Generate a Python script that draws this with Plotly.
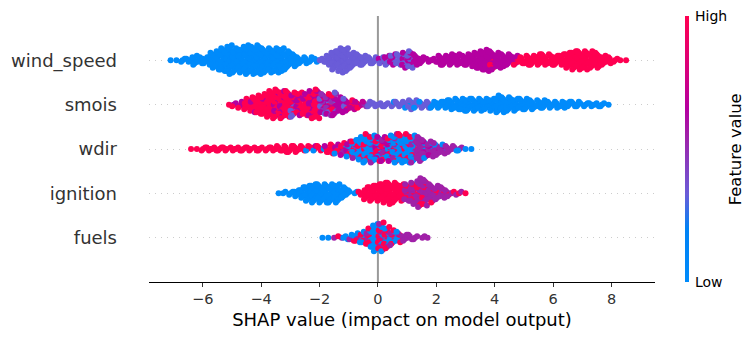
import plotly.graph_objects as go

# Values: SHAP bins (left edge, bin step) and the number of points in every bin.
features = ["fuels", "ignition", "wdir", "smois", "wind_speed"]
bin_step = 0.2

wind_start = -7.1
wind_counts = [1,1,3,3,7,5,5,11,13,16,20,17,17,20,19,20,17,17,17,16,13,9,5,5,4,3,3,7,13,17,16,11,8,7,5,5,5,7,8,8,11,12,8,5,3,3,7,7,8,8,7,8,11,13,15,13,11,9,8,7,5,7,7,8,8,8,7,8,11,13,13,13,12,11,7,5,3,1,1]
wind_breaks = [-1.95, -0.1, 0.95, 1.5, 3.5, 4.75, 99]
wind_values = [[0], [0.33], [0.33, 0.33, 0.65, 0.33], [0.65, 0.65, 0.33], [0.65], [0.65, 0.65, 0.65, 0.65, 0.65, 0.65, 0.65, 1], [1]]

smois_start = -5.1
smois_counts = [1,3,5,8,11,13,14,18,20,19,18,17,16,15,19,20,14,15,16,11,9,7,5,4,4,3,3,3,4,4,5,7,6,5,5,5,5,6,7,8,9,9,9,9,8,9,12,11,10,9,8,8,7,6,6,5,5,5,4,4,4,3,3,3,3,1]
smois_breaks = [-3.0, -1.9, -1.0, -0.35, 1.8, 99]
smois_values = [[1, 1, 1, 0.65, 1, 1, 1], [1, 1, 0.65, 1, 0.65, 0.33], [0.65, 1, 0.33, 0.65, 0.5], [0.7, 1, 0.5], [0.33, 0.33, 0.33, 0.33, 0], [0]]

wdir_start = -6.4
wdir_counts = [1,1,3,3,3,3,3,3,3,3,3,3,3,3,3,4,5,5,5,4,4,4,4,5,7,7,9,11,13,16,20,19,17,17,18,20,20,20,19,17,13,11,9,7,5,4,3,1,1]
wdir_breaks = [-2.8, -1.5, 1.4, 99]
wdir_values = [[1], [1, 1, 0, 1, 0.65], [0, 1, 0.65, 0, 0.55, 1, 0], [0.55, 0.55, 0, 0.55, 0.65]]

ignition_start = -3.4
ignition_counts = [1,2,3,5,8,11,13,13,13,13,13,8,4,2,3,9,11,12,14,15,14,12,12,15,20,18,13,10,8,5,3,2,1]
ignition_breaks = [-0.75, 0.95, 99]
ignition_values = [[0], [1], [0.55, 0.55, 0.55, 0.55, 0.55, 0.55, 1]]

fuels_start = -1.9
fuels_counts = [1,1,1,2,3,5,7,9,13,19,20,15,11,8,5,4,3,2,1]
fuels_breaks = [0.9, 99]
fuels_values = [[0, 1, 0.55, 0, 1], [0.55]]

x_ticks = [-6, -4, -2, 0, 2, 4, 6, 8]
x_title = "SHAP value (impact on model output)"
bar_title = "Feature value"
bar_labels = ["Low", "High"]
colour_stops = [[0, "#008bfb"], [0.2, "#0082f5"], [0.33, "#6a5cd8"], [0.55, "#a020a8"], [0.65, "#b400a0"], [0.8, "#d8007c"], [1, "#ff0051"]]

rows = [
    (fuels_start, fuels_counts, fuels_breaks, fuels_values),
    (ignition_start, ignition_counts, ignition_breaks, ignition_values),
    (wdir_start, wdir_counts, wdir_breaks, wdir_values),
    (smois_start, smois_counts, smois_breaks, smois_values),
    (wind_start, wind_counts, wind_breaks, wind_values),
]

xs, ys, cs = [], [], []
layer = 0.034
for row, (start, counts, breaks, values) in enumerate(rows):
    for i, n in enumerate(counts):
        x = start + i * bin_step
        seg = next(k for k, b in enumerate(breaks) if x < b)
        pal = values[seg]
        for j in range(n):
            off = (j + 1) // 2 * (1 if j % 2 else -1)
            spread = ((j * 0.382 + i * 0.271) % 1 - 0.5) * bin_step if n > 1 else 0
            xs.append(x + spread)
            ys.append(row + off * layer)
            cs.append(pal[(i * i * 3 + j * j * 5 + i * j + j) % len(pal)])

fig = go.Figure()
fig.add_trace(go.Scatter(
    x=xs, y=ys, mode="markers", hoverinfo="skip", showlegend=False,
    marker=dict(size=6, color=cs, cmin=0, cmax=1, colorscale=colour_stops, line_width=0,
                colorbar=dict(xref="container", x=677/745, xanchor="left", thickness=4, xpad=0, ypad=0,
                              yref="paper", y=0.5, yanchor="middle",
                              lenmode="fraction", len=1, outlinewidth=0, ticks="",
                              tickvals=[], showticklabels=False)),
))
fig.add_shape(type="line", xref="x", yref="paper", x0=0, x1=0, y0=0, y1=1, layer="below",
              line=dict(color="#999999", width=2))
fig.add_annotation(text=bar_title, xref="paper", yref="paper", x=(735-149)/506, y=(282.5-149.5)/266.5,
                   xanchor="center", yanchor="middle",
                   showarrow=False, textangle=-90, font=dict(family="DejaVu Sans", size=16.4, color="black"))
for label, yp in zip(bar_labels, [0, 1]):
    fig.add_annotation(text=label, xref="paper", yref="paper", x=(694-149)/506, y=yp,
                       xanchor="left", yanchor="middle", showarrow=False, borderpad=0,
                       font=dict(family="DejaVu Sans", size=14, color="black"))
fig.update_layout(
    width=745, height=332, autosize=False, paper_bgcolor="white", plot_bgcolor="white",
    margin=dict(l=141, r=98, t=8, b=57.5, autoexpand=False),
    xaxis=dict(range=[-7.84, 9.49], tickvals=x_ticks, ticktext=[str(t).replace("-", "\u2212") for t in x_ticks],
               showgrid=False, zeroline=False, showline=True, linecolor="black", linewidth=1,
               ticks="outside", ticklen=4, tickcolor="#333333", tickwidth=1,
               tickfont=dict(family="DejaVu Sans", size=14.5, color="#333333"),
               title=dict(text=x_title, font=dict(family="DejaVu Sans", size=18, color="black"), standoff=6)),
    yaxis=dict(range=[-1, 5], tickvals=list(range(5)), ticktext=features, showgrid=True, gridcolor="#cccccc",
               gridwidth=0.5, griddash="1px,5px", zeroline=False, showline=False, ticks="", ticklen=0,
               ticklabelstandoff=31, tickfont=dict(family="DejaVu Sans", size=18, color="#333333")),
)
fig.write_html("out.html")
